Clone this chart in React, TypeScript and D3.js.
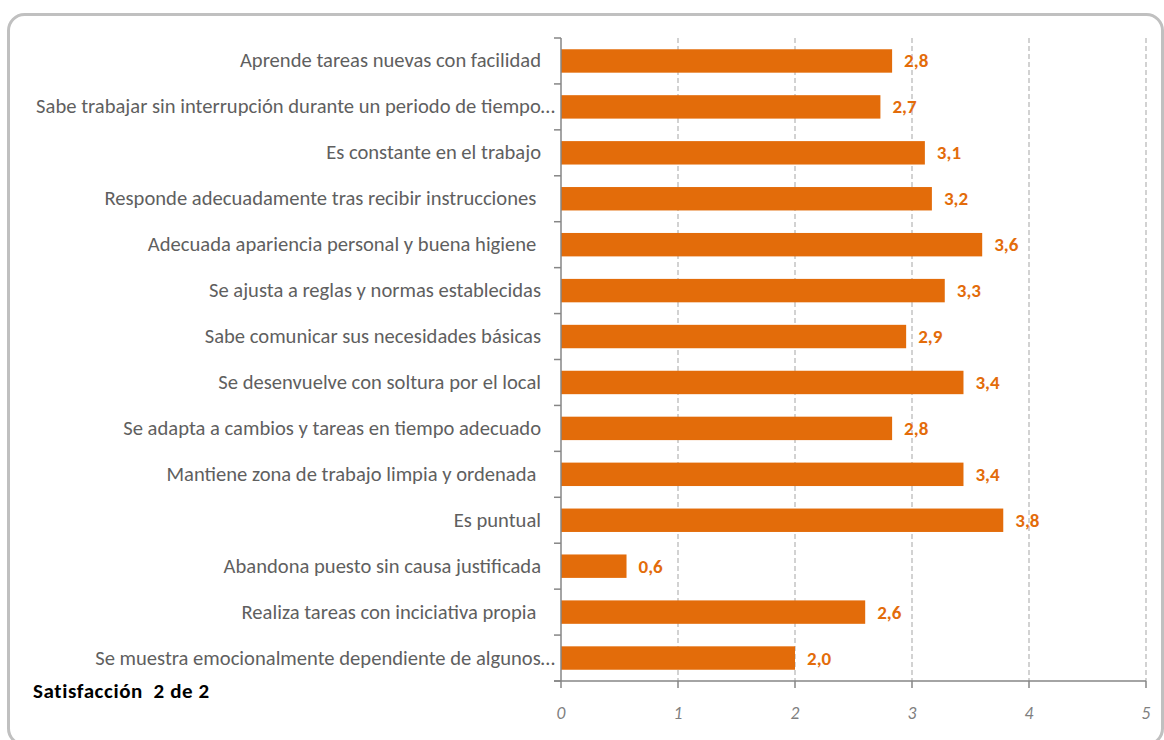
import React from "react";
import * as d3 from "d3";

const categories: string[] = [
  "Aprende tareas nuevas con facilidad",
  "Sabe trabajar sin interrupción durante un periodo de tiempo…",
  "Es constante en el trabajo",
  "Responde adecuadamente tras recibir instrucciones ",
  "Adecuada apariencia personal y buena higiene ",
  "Se ajusta a reglas y normas establecidas",
  "Sabe comunicar sus necesidades básicas",
  "Se desenvuelve con soltura por el local",
  "Se adapta a cambios y tareas en tiempo adecuado",
  "Mantiene zona de trabajo limpia y ordenada ",
  "Es puntual",
  "Abandona puesto sin causa justificada",
  "Realiza tareas con inciciativa propia ",
  "Se muestra emocionalmente dependiente de algunos…",
];
const values: number[] = [2.83, 2.73, 3.11, 3.17, 3.6, 3.28, 2.95, 3.44, 2.83, 3.44, 3.78, 0.56, 2.6, 2.0];
const valueLabels: string[] = ["2,8", "2,7", "3,1", "3,2", "3,6", "3,3", "2,9", "3,4", "2,8", "3,4", "3,8", "0,6", "2,6", "2,0"];
const xTicks: number[] = [0, 1, 2, 3, 4, 5];
const title = "Satisfacción  2 de 2";

export default function App() {
  const W = 1164, H = 740;
  const x0 = 561, x1 = 1146, yTop = 38, yBot = 681;
  const x = d3.scaleLinear().domain([0, 5]).range([x0, x1]);
  const y = d3.scaleBand<number>().domain(d3.range(categories.length)).range([yTop, yBot]).paddingInner(0.49).paddingOuter(0.245);
  const step = (yBot - yTop) / categories.length;
  const font = "Carlito, Calibri, 'Open Sans', sans-serif";
  const orange = "#E36C0A";
  return (
    <svg width={W} height={H} style={{ position: "absolute", left: 0, top: 0 }}>
      <rect x={0} y={0} width={W} height={H} fill="#fff" />
      <rect x={8.5} y={14.5} width={1154} height={730} rx={16} ry={16} fill="#fff" stroke="#c0c0c0" strokeWidth={3} />
      {xTicks.filter(t => t > 0).map(t => (
        <line key={"g" + t} x1={x(t)} x2={x(t)} y1={yTop} y2={yBot} stroke="#c4c4c4" strokeWidth={1.5} strokeDasharray="5,3" />
      ))}
      {categories.map((c, i) => (
        <rect key={"b" + i} x={x(0)} y={y(i)!} width={x(values[i]) - x(0)} height={y.bandwidth()} fill={orange} />
      ))}
      <line x1={x0} x2={x0} y1={yTop} y2={yBot} stroke="#868686" strokeWidth={1.5} />
      {d3.range(categories.length + 1).map(i => (
        <line key={"yt" + i} x1={x0 - 7} x2={x0} y1={yTop + i * step} y2={yTop + i * step} stroke="#868686" strokeWidth={1.5} />
      ))}
      <line x1={x0 - 7} x2={x1} y1={yBot} y2={yBot} stroke="#868686" strokeWidth={1.5} />
      {xTicks.map(t => (
        <line key={"xt" + t} x1={x(t)} x2={x(t)} y1={yBot} y2={yBot + 7} stroke="#868686" strokeWidth={1.5} />
      ))}
      {xTicks.map(t => (
        <text key={"xl" + t} x={x(t)} y={719} textAnchor="middle" fontFamily={font} fontStyle="italic" fontSize={17.5} fill="#7f7f7f">{t}</text>
      ))}
      {categories.map((c, i) => {
        const trunc = c.endsWith("…");
        return (
          <text key={"l" + i} x={trunc ? 555 : 541} y={y(i)! + y.bandwidth() / 2 + 6.5} textAnchor="end" fontFamily={font} fontSize={20.6} fill="#5f5f5f" style={{ whiteSpace: "pre" }}>{c}</text>
        );
      })}
      {categories.map((c, i) => (
        <text key={"v" + i} x={x(values[i]) + 12} y={y(i)! + y.bandwidth() / 2 + 6.5} fontFamily={font} fontWeight="bold" fontSize={19} fill={orange}>{valueLabels[i]}</text>
      ))}
      <text x={33} y={698} fontFamily={font} fontWeight="bold" fontSize={21} letterSpacing={0.6} fill="#000" style={{ whiteSpace: "pre" }}>{title}</text>
    </svg>
  );
}
